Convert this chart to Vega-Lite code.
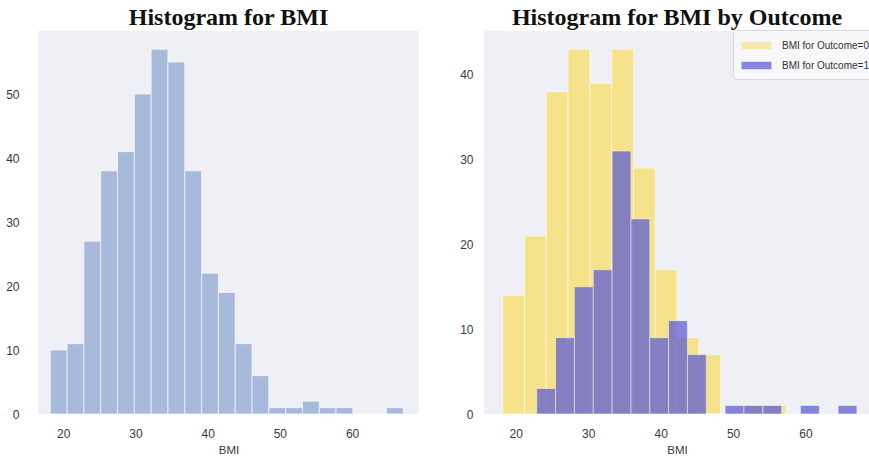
{
  "$schema": "https://vega.github.io/schema/vega-lite/v6.json",
  "padding": {"left": 5, "top": 6, "right": 0, "bottom": 0},
  "background": "white",
  "bounds": "flush",
  "spacing": 65,
  "config": {
    "view": {"fill": "#efeff6", "stroke": null},
    "axis": {"domain": false, "ticks": false, "grid": false, "labelFont": "Liberation Sans", "labelFontSize": 12, "labelColor": "#3a3a3a", "titleFont": "Liberation Sans", "titleFontSize": 11.5, "titleFontWeight": "normal", "titleColor": "#3a3a3a"},
    "title": {"font": "Liberation Serif", "fontSize": 24, "fontWeight": "bold", "color": "#111", "anchor": "middle", "offset": 1}
  },
  "datasets": {
    "all": [
      {"lo": 18.2, "hi": 20.5286, "n": 10},
      {"lo": 20.5286, "hi": 22.8571, "n": 11},
      {"lo": 22.8571, "hi": 25.1857, "n": 27},
      {"lo": 25.1857, "hi": 27.5143, "n": 38},
      {"lo": 27.5143, "hi": 29.8429, "n": 41},
      {"lo": 29.8429, "hi": 32.1714, "n": 50},
      {"lo": 32.1714, "hi": 34.5, "n": 57},
      {"lo": 34.5, "hi": 36.8286, "n": 55},
      {"lo": 36.8286, "hi": 39.1571, "n": 38},
      {"lo": 39.1571, "hi": 41.4857, "n": 22},
      {"lo": 41.4857, "hi": 43.8143, "n": 19},
      {"lo": 43.8143, "hi": 46.1429, "n": 11},
      {"lo": 46.1429, "hi": 48.4714, "n": 6},
      {"lo": 48.4714, "hi": 50.8, "n": 1},
      {"lo": 50.8, "hi": 53.1286, "n": 1},
      {"lo": 53.1286, "hi": 55.4571, "n": 2},
      {"lo": 55.4571, "hi": 57.7857, "n": 1},
      {"lo": 57.7857, "hi": 60.1143, "n": 1},
      {"lo": 60.1143, "hi": 62.4429, "n": 0},
      {"lo": 62.4429, "hi": 64.7714, "n": 0},
      {"lo": 64.7714, "hi": 67.1, "n": 1}
    ],
    "byOutcome": [
      {"grp": "BMI for Outcome=0", "lo": 18.2, "hi": 21.2077, "n": 14},
      {"grp": "BMI for Outcome=0", "lo": 21.2077, "hi": 24.2154, "n": 21},
      {"grp": "BMI for Outcome=0", "lo": 24.2154, "hi": 27.2231, "n": 38},
      {"grp": "BMI for Outcome=0", "lo": 27.2231, "hi": 30.2308, "n": 43},
      {"grp": "BMI for Outcome=0", "lo": 30.2308, "hi": 33.2385, "n": 39},
      {"grp": "BMI for Outcome=0", "lo": 33.2385, "hi": 36.2462, "n": 43},
      {"grp": "BMI for Outcome=0", "lo": 36.2462, "hi": 39.2538, "n": 29},
      {"grp": "BMI for Outcome=0", "lo": 39.2538, "hi": 42.2615, "n": 17},
      {"grp": "BMI for Outcome=0", "lo": 42.2615, "hi": 45.2692, "n": 9},
      {"grp": "BMI for Outcome=0", "lo": 45.2692, "hi": 48.2769, "n": 7},
      {"grp": "BMI for Outcome=0", "lo": 48.2769, "hi": 51.2846, "n": 0},
      {"grp": "BMI for Outcome=0", "lo": 51.2846, "hi": 54.2923, "n": 1},
      {"grp": "BMI for Outcome=0", "lo": 54.2923, "hi": 57.3, "n": 1},
      {"grp": "BMI for Outcome=1", "lo": 22.9, "hi": 25.5, "n": 3},
      {"grp": "BMI for Outcome=1", "lo": 25.5, "hi": 28.1, "n": 9},
      {"grp": "BMI for Outcome=1", "lo": 28.1, "hi": 30.7, "n": 15},
      {"grp": "BMI for Outcome=1", "lo": 30.7, "hi": 33.3, "n": 17},
      {"grp": "BMI for Outcome=1", "lo": 33.3, "hi": 35.9, "n": 31},
      {"grp": "BMI for Outcome=1", "lo": 35.9, "hi": 38.5, "n": 23},
      {"grp": "BMI for Outcome=1", "lo": 38.5, "hi": 41.1, "n": 9},
      {"grp": "BMI for Outcome=1", "lo": 41.1, "hi": 43.7, "n": 11},
      {"grp": "BMI for Outcome=1", "lo": 43.7, "hi": 46.3, "n": 7},
      {"grp": "BMI for Outcome=1", "lo": 46.3, "hi": 48.9, "n": 0},
      {"grp": "BMI for Outcome=1", "lo": 48.9, "hi": 51.5, "n": 1},
      {"grp": "BMI for Outcome=1", "lo": 51.5, "hi": 54.1, "n": 1},
      {"grp": "BMI for Outcome=1", "lo": 54.1, "hi": 56.7, "n": 1},
      {"grp": "BMI for Outcome=1", "lo": 56.7, "hi": 59.3, "n": 0},
      {"grp": "BMI for Outcome=1", "lo": 59.3, "hi": 61.9, "n": 1},
      {"grp": "BMI for Outcome=1", "lo": 61.9, "hi": 64.5, "n": 0},
      {"grp": "BMI for Outcome=1", "lo": 64.5, "hi": 67.1, "n": 1}
    ]
  },
  "hconcat": [
    {
      "title": "Histogram for BMI",
      "width": 381,
      "height": 383,
      "data": {"name": "all"},
      "mark": {"type": "rect", "color": "#a8badc", "stroke": "#ffffff", "strokeWidth": 0.8, "strokeOpacity": 0.8},
      "encoding": {
        "x": {"field": "lo", "type": "quantitative", "scale": {"domain": [16.5, 69.27], "nice": false, "zero": false}, "axis": {"values": [20, 30, 40, 50, 60], "title": "BMI", "labelPadding": 14, "titlePadding": 5}},
        "x2": {"field": "hi"},
        "y": {"field": "n", "type": "quantitative", "scale": {"domain": [0, 59.85], "nice": false}, "axis": {"values": [0, 10, 20, 30, 40, 50], "title": null, "labelPadding": 19}}
      }
    },
    {
      "title": "Histogram for BMI by Outcome",
      "width": 386,
      "height": 383,
      "data": {"name": "byOutcome"},
      "layer": [
        {
          "transform": [{"filter": "datum.grp == 'BMI for Outcome=0'"}],
          "mark": {"type": "rect", "stroke": "#ffffff", "strokeWidth": 0.8, "strokeOpacity": 0.7},
          "encoding": {
            "x": {"field": "lo", "type": "quantitative", "scale": {"domain": [15.62, 68.9], "nice": false, "zero": false}, "axis": {"values": [20, 30, 40, 50, 60], "title": "BMI", "labelPadding": 14, "titlePadding": 5}},
            "x2": {"field": "hi"},
            "y": {"field": "n", "type": "quantitative", "scale": {"domain": [0, 45.15], "nice": false}, "axis": {"values": [0, 10, 20, 30, 40], "title": null, "labelPadding": 11}},
            "color": {"field": "grp", "type": "nominal", "scale": {"domain": ["BMI for Outcome=0", "BMI for Outcome=1"], "range": ["#f6e28b", "#5556d5"]}, "legend": {"orient": "none", "legendX": 695, "legendY": -1, "title": null, "symbolType": "M-2,-0.5H2V0.5H-2Z", "symbolSize": 225, "symbolOffset": 8, "symbolOpacity": 0.7, "symbolStrokeWidth": 0, "labelFont": "Liberation Sans", "labelFontSize": 10, "labelColor": "#333", "labelOffset": 18, "padding": 8, "rowPadding": 7, "fillColor": "#f8f8fb", "strokeColor": "#d8d8e0", "cornerRadius": 3}}
          }
        },
        {
          "transform": [{"filter": "datum.grp == 'BMI for Outcome=1'"}],
          "mark": {"type": "rect", "opacity": 0.7, "stroke": "#ffffff", "strokeWidth": 0.8, "strokeOpacity": 0.7},
          "encoding": {
            "x": {"field": "lo", "type": "quantitative"},
            "x2": {"field": "hi"},
            "y": {"field": "n", "type": "quantitative"},
            "color": {"field": "grp", "type": "nominal"}
          }
        }
      ]
    }
  ]
}
